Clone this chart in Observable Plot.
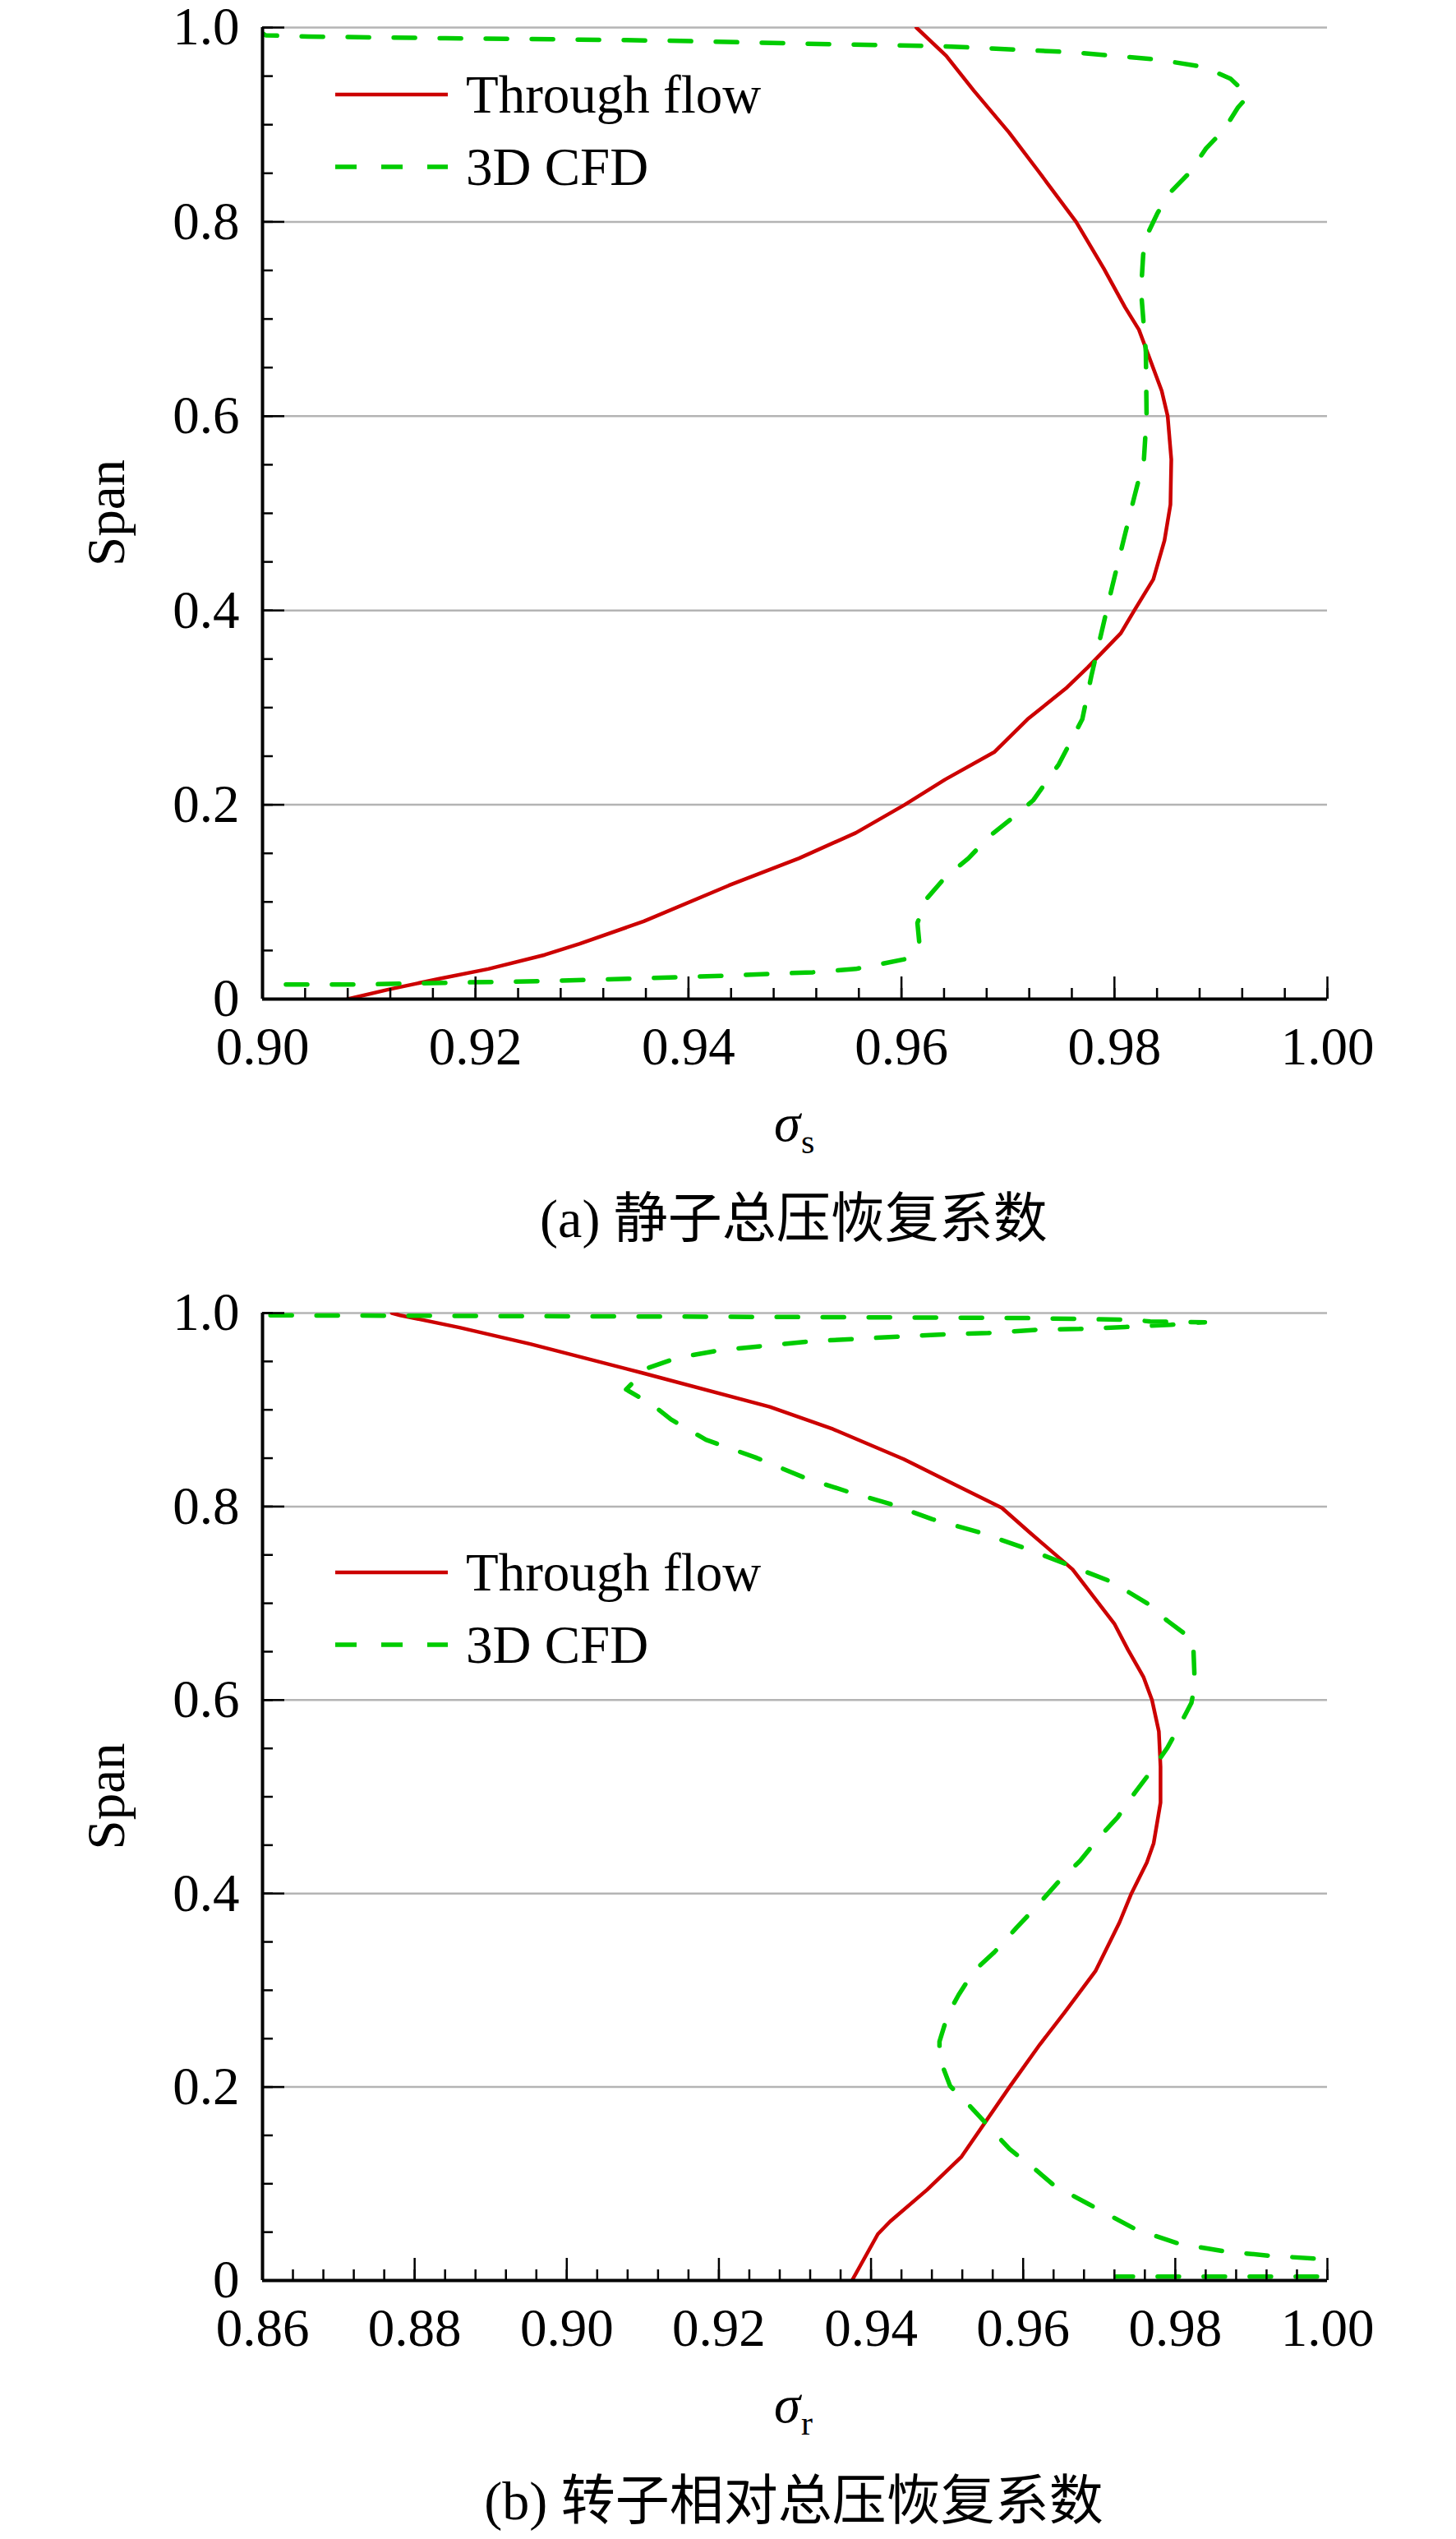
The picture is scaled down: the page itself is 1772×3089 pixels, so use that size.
<!DOCTYPE html>
<html>
<head>
<meta charset="utf-8">
<script src="https://cdn.jsdelivr.net/npm/d3@7"></script>
<script src="https://cdn.jsdelivr.net/npm/@observablehq/plot@0.6"></script>
<style>
  html, body { margin: 0; padding: 0; background: #fff; }
  #chart svg { display: block; }
</style>
</head>
<body>
<div id="chart"></div>
<script>
// ---------- Data ----------
// (a) Stator total-pressure recovery coefficient
const statorThroughSigma = [0.9080, 0.9119, 0.9166, 0.9212, 0.9265, 0.9298, 0.9358, 0.9438, 0.9504, 0.9557, 0.9603, 0.9641, 0.96875, 0.97184, 0.97544, 0.9775, 0.9806, 0.98187, 0.98365, 0.9847, 0.98526, 0.98534, 0.9850, 0.98444, 0.9823, 0.9810, 0.9790, 0.9764, 0.9728, 0.9701, 0.9668, 0.9642, 0.9614];
const statorThroughSpan  = [0.000, 0.010, 0.021, 0.031, 0.0455, 0.057, 0.080, 0.117, 0.145, 0.171, 0.200, 0.226, 0.2545, 0.288, 0.3197, 0.3415, 0.3766, 0.400, 0.432, 0.472, 0.509, 0.5555, 0.600, 0.626, 0.689, 0.712, 0.752, 0.800, 0.853, 0.892, 0.935, 0.971, 1.000];

const statorCfdSigma = [0.8995, 0.9003, 0.9043, 0.9172, 0.9298, 0.9380, 0.9463, 0.9549, 0.9632, 0.9675, 0.9714, 0.9759, 0.9799, 0.9841, 0.9884, 0.9909, 0.9926, 0.9916, 0.9903, 0.9886, 0.9870, 0.9850, 0.9840, 0.9830, 0.9827, 0.9825, 0.98295, 0.98302, 0.98277, 0.98187, 0.98085, 0.9798, 0.9788, 0.97785, 0.97698, 0.97477, 0.97236, 0.9706, 0.9683, 0.9663, 0.9640, 0.9623, 0.9615, 0.9617, 0.9603, 0.9557, 0.9517, 0.9431, 0.9345, 0.9265, 0.9180, 0.9093, 0.8995];
const statorCfdSpan  = [0.9975, 0.9920, 0.9907, 0.9890, 0.9876, 0.9865, 0.9845, 0.9825, 0.9810, 0.9790, 0.9770, 0.9746, 0.9710, 0.9670, 0.9594, 0.9473, 0.9300, 0.9177, 0.8950, 0.8755, 0.8500, 0.8276, 0.8080, 0.7850, 0.7660, 0.7290, 0.6660, 0.6000, 0.5555, 0.5170, 0.4720, 0.4250, 0.3780, 0.3335, 0.2880, 0.2415, 0.2045, 0.1880, 0.1680, 0.1450, 0.1240, 0.1025, 0.0783, 0.0555, 0.0410, 0.0310, 0.0276, 0.0240, 0.0210, 0.0185, 0.0170, 0.0150, 0.0150];

// (b) Rotor relative total-pressure recovery coefficient
const rotorThroughSigma = [0.9375, 0.9409, 0.9425, 0.9474, 0.9519, 0.9582, 0.9622, 0.96545, 0.9695, 0.97266, 0.97423, 0.97626, 0.97716, 0.97806, 0.97806, 0.97784, 0.97694, 0.97581, 0.97378, 0.97198, 0.9665, 0.9609, 0.9572, 0.9507, 0.9443, 0.9350, 0.9267, 0.9100, 0.8952, 0.8859, 0.8781, 0.8770];
const rotorThroughSpan  = [0.000, 0.048, 0.061, 0.094, 0.128, 0.200, 0.244, 0.277, 0.3197, 0.370, 0.400, 0.432, 0.452, 0.494, 0.531, 0.5676, 0.600, 0.624, 0.652, 0.679, 0.735, 0.773, 0.7986, 0.824, 0.849, 0.880, 0.903, 0.938, 0.968, 0.985, 0.9977, 1.000];

const rotorCfdSigma = [0.8550, 0.8600, 0.9200, 0.9600, 0.9747, 0.9767, 0.9839, 0.9794, 0.9734, 0.9674, 0.9619, 0.9554, 0.9498, 0.9443, 0.9378, 0.9322, 0.9267, 0.9202, 0.9146, 0.9105, 0.9078, 0.9114, 0.9137, 0.9183, 0.9248, 0.9313, 0.9369, 0.9424, 0.9480, 0.9544, 0.9600, 0.9656, 0.9716, 0.9763, 0.9790, 0.98234, 0.98257, 0.98212, 0.98032, 0.97896, 0.97671, 0.97468, 0.97243, 0.96995, 0.96748, 0.96455, 0.96185, 0.95914, 0.95622, 0.95351, 0.9515, 0.9501, 0.9490, 0.9490, 0.9504, 0.9528, 0.9555, 0.9582, 0.9618, 0.9641, 0.9686, 0.9749, 0.9805, 0.9866, 0.9925, 0.9983, 1.0050, 1.0050, 0.9722];
const rotorCfdSpan  = [0.9980, 0.9977, 0.9962, 0.9949, 0.9929, 0.9912, 0.9905, 0.9879, 0.9856, 0.9836, 0.9828, 0.9794, 0.9780, 0.9760, 0.9732, 0.9709, 0.9667, 0.9616, 0.9540, 0.9427, 0.9210, 0.9045, 0.8900, 0.8690, 0.8508, 0.8297, 0.8155, 0.8030, 0.7870, 0.7730, 0.7576, 0.7407, 0.7223, 0.7000, 0.6817, 0.6620, 0.6155, 0.5970, 0.5700, 0.5507, 0.5253, 0.5042, 0.4789, 0.4577, 0.4338, 0.4113, 0.3873, 0.3648, 0.3394, 0.3197, 0.2950, 0.2750, 0.2470, 0.2300, 0.2010, 0.1820, 0.1590, 0.1360, 0.1135, 0.0980, 0.0790, 0.0525, 0.0380, 0.0300, 0.0255, 0.0227, 0.0210, 0.0040, 0.0040];

// Tick labels
const xTicksA = [0.90, 0.92, 0.94, 0.96, 0.98, 1.00];
const xTickLabelsA = ["0.90", "0.92", "0.94", "0.96", "0.98", "1.00"];
const xTicksB = [0.86, 0.88, 0.90, 0.92, 0.94, 0.96, 0.98, 1.00];
const xTickLabelsB = ["0.86", "0.88", "0.90", "0.92", "0.94", "0.96", "0.98", "1.00"];
const yTicks = [0, 0.2, 0.4, 0.6, 0.8, 1.0];
const yTickLabels = ["0", "0.2", "0.4", "0.6", "0.8", "1.0"];
const seriesNames = ["Through flow", "3D CFD"];
const captions = ["(a) 静子总压恢复系数", "(b) 转子相对总压恢复系数"];
const xSubscripts = ["s", "r"];

// ---------- Styling ----------
const RED = "#cc0000";
const GREEN = "#00cc00";
const DASH = "26,30";
const FONT = "Liberation Serif, Times New Roman, Noto Sans CJK SC, serif";
const W = 1772, ML = 319, MR = 157;

function table(xs, ys) { return xs.map((x, i) => ({sigma: x, span: ys[i]})); }

function panel(cfg) {
  const plotW = W - ML - MR;
  const plotH = cfg.height - cfg.marginTop - cfg.marginBottom;
  const [x0, x1] = cfg.xDomain;
  const xMinor = d3.range(0, Math.round((x1 - x0) / 0.004) + 1).map(i => x0 + i * 0.004);
  const yMinor = d3.range(0, 21).map(i => i * 0.05);
  const svg = Plot.plot({
    width: W,
    height: cfg.height,
    marginLeft: ML,
    marginRight: MR,
    marginTop: cfg.marginTop,
    marginBottom: cfg.marginBottom,
    style: {fontFamily: FONT, fontSize: "65px", background: "#fff", color: "#000"},
    x: {domain: cfg.xDomain, nice: false},
    y: {domain: [0, 1], nice: false},
    marks: [
      Plot.ruleY(yTicks.filter(d => d > 0), {stroke: "#b4b4b4", strokeWidth: 2.5}),
      Plot.line(cfg.through, {x: "sigma", y: "span", stroke: RED, strokeWidth: 4.5, clip: true}),
      Plot.line(cfg.cfd, {x: "sigma", y: "span", stroke: GREEN, strokeWidth: 5.5, strokeDasharray: DASH, clip: true}),
      // inward ticks
      Plot.tickX(xMinor, {x: d => d, stroke: "#000", strokeWidth: 2.5, insetTop: plotH - 13}),
      Plot.tickX(cfg.xTicks, {x: d => d, stroke: "#000", strokeWidth: 2.5, insetTop: plotH - 27}),
      Plot.tickY(yMinor, {y: d => d, stroke: "#000", strokeWidth: 2.5, insetRight: plotW - 13}),
      Plot.tickY(yTicks, {y: d => d, stroke: "#000", strokeWidth: 2.5, insetRight: plotW - 27}),
      // axis lines
      Plot.ruleY([0], {stroke: "#000", strokeWidth: 4}),
      Plot.ruleX([x0], {stroke: "#000", strokeWidth: 4}),
      Plot.axisX(cfg.xTicks, {tickSize: 0, tickPadding: 33, tickFormat: d => cfg.xTickLabels[cfg.xTicks.indexOf(d)], label: null}),
      Plot.axisY(yTicks, {tickSize: 0, tickPadding: 28, tickFormat: d => yTickLabels[yTicks.indexOf(d)], label: null})
    ]
  });

  const s = d3.select(svg);
  const g = s.append("g").attr("font-family", FONT).attr("fill", "#000").attr("text-anchor", "start");
  const axisY = cfg.marginTop + plotH;
  // y label
  g.append("text")
    .attr("transform", `translate(128,${cfg.marginTop + plotH / 2}) rotate(-90)`)
    .attr("text-anchor", "middle").attr("dy", "0.35em")
    .attr("font-size", 65).text("Span");
  // x label sigma with subscript
  g.append("text").attr("x", 958).attr("y", axisY + 173).attr("text-anchor", "middle")
    .attr("font-size", 65).attr("font-style", "italic").text("σ");
  g.append("text").attr("x", 975).attr("y", axisY + 188).attr("text-anchor", "start")
    .attr("font-size", 42).text(cfg.sub);
  // caption
  g.append("text").attr("x", 966).attr("y", cfg.captionY).attr("text-anchor", "middle")
    .attr("font-size", 66).text(cfg.caption);
  // legend
  const L = s.append("g").attr("text-anchor", "start");
  L.append("line").attr("x1", 408).attr("x2", 545).attr("y1", cfg.legendY).attr("y2", cfg.legendY)
    .attr("stroke", RED).attr("stroke-width", 4.5);
  L.append("line").attr("x1", 408).attr("x2", 545).attr("y1", cfg.legendY + 88).attr("y2", cfg.legendY + 88)
    .attr("stroke", GREEN).attr("stroke-width", 5.5).attr("stroke-dasharray", DASH);
  L.append("text").attr("x", 567).attr("y", cfg.legendY + 22).attr("font-family", FONT)
    .attr("text-anchor", "start").attr("font-size", 65).text(seriesNames[0]);
  L.append("text").attr("x", 567).attr("y", cfg.legendY + 110).attr("font-family", FONT)
    .attr("text-anchor", "start").attr("font-size", 65).text(seriesNames[1]);
  return svg;
}

const chart = document.getElementById("chart");
chart.appendChild(panel({
  height: 1545, marginTop: 33, marginBottom: 330,
  xDomain: [0.90, 1.00], xTicks: xTicksA, xTickLabels: xTickLabelsA,
  through: table(statorThroughSigma, statorThroughSpan),
  cfd: table(statorCfdSigma, statorCfdSpan),
  sub: xSubscripts[0], caption: captions[0], captionY: 1505, legendY: 115
}));
chart.appendChild(panel({
  height: 1544, marginTop: 52, marginBottom: 315,
  xDomain: [0.86, 1.00], xTicks: xTicksB, xTickLabels: xTickLabelsB,
  through: table(rotorThroughSigma, rotorThroughSpan),
  cfd: table(rotorCfdSigma, rotorCfdSpan),
  sub: xSubscripts[1], caption: captions[1], captionY: 1520, legendY: 368
}));
</script>
</body>
</html>
